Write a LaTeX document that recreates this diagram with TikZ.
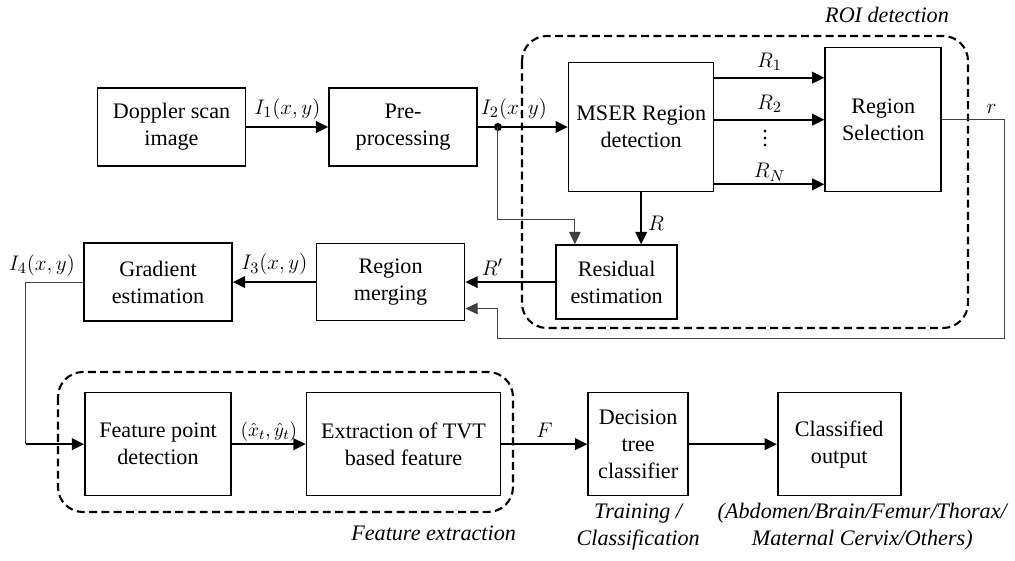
\documentclass[tikz,border=0pt]{standalone}
\usepackage{amsmath}
\usepackage{fontspec}
\setmainfont{Liberation Serif}
\usetikzlibrary{positioning,calc,arrows.meta}

\begin{document}
\begin{tikzpicture}[>={Triangle[length=7pt,width=6.5pt]},
  font=\rmfamily\fontsize{12.6}{15.4}\selectfont,
  block/.style={rectangle, draw=black, line width=0.9pt, minimum width=2.96cm, minimum height=1.56cm, align=center, inner sep=2pt},
  arrow/.style={->, line width=1.2pt},
  thinline/.style={draw=black!75, line width=0.6pt},
  group/.style={draw=black, line width=1.2pt, dash pattern=on 4.5pt off 2.5pt, rounded corners=0.5cm},
  note/.style={font=\rmfamily\fontsize{12.6}{15.4}\selectfont\itshape, align=center, inner sep=1pt}]

  \useasboundingbox (0,0) rectangle (20.3,-11.2);

  % top row
  \node [block] (doppler) at (3.43,-2.54) {Doppler scan\\image};
  \node [block, right=1.64cm of doppler] (pre) {Pre-\\processing};
  \node [block, minimum width=2.9cm, minimum height=2.58cm, right=1.8cm of pre] (mser) {MSER Region\\detection};
  \node [block, minimum width=2.32cm, minimum height=2.88cm, right=2.2cm of mser.south east, anchor=south west] (sel) {Region\\Selection};

  % middle row
  \node [block, minimum width=2.42cm, minimum height=1.48cm, below=1.04cm of mser, xshift=-0.49cm] (resid) {Residual\\estimation};
  \node [block, minimum height=1.54cm, left=1.8cm of resid] (merge) {Region\\merging};
  \node [block, left=1.66cm of merge] (grad) {Gradient\\estimation};

  % bottom row
  \node [block, minimum width=2.92cm, minimum height=2.06cm, below=1.4cm of grad] (fpd) {Feature point\\detection};
  \node [block, minimum width=3.88cm, minimum height=2.06cm, right=1.48cm of fpd] (tvt) {Extraction of TVT\\based feature};
  \node [block, minimum width=2.0cm, minimum height=2.06cm, right=1.72cm of tvt] (dtc) {Decision\\tree\\classifier};
  \node [block, minimum width=2.46cm, minimum height=2.06cm, right=1.76cm of dtc] (out) {Classified\\output};

  % dashed groups
  \draw [group] (10.44,-0.72) rectangle (19.36,-6.56);
  \node [note] (roilab) at (17.74,-0.3) {ROI detection};
  \draw [group] (1.16,-7.44) rectangle (10.26,-10.24);
  \node [note, anchor=east] (fexlab) at (10.36,-10.66) {Feature extraction};
  \node [note, below=0.1cm of dtc] (trainlab) {Training /\\Classification};
  \node [note, below=0.1cm of out, xshift=0.46cm] (classlab) {(Abdomen/Brain/Femur/Thorax/\\Maternal Cervix/Others)};

  % connectors
  \draw [arrow] (doppler) -- node[above]{$I_1(x,y)$} (pre);
  \coordinate (tap) at ($(pre.east)+(0.4,0)$);
  \draw [arrow] (pre) -- node[above, pos=0.4]{$I_2(x,y)$} (mser);
  \fill (tap) circle (2.3pt);
  \draw [thinline, ->] (tap) |- ($(resid.north west)+(0.39,0.5)$) -- ($(resid.north west)+(0.39,0)$);
  \draw [arrow] (mser) -- node[right, pos=0.6]{$R$} (mser.south |- resid.north);

  \coordinate (r1) at ($(mser.north east)+(0,-0.32)$);
  \coordinate (r2) at ($(mser.north east)+(0,-1.16)$);
  \coordinate (rn) at ($(mser.south east)+(0,0.16)$);
  \draw [arrow] (r1) -- node[above]{$R_1$} (sel.west |- r1);
  \draw [arrow] (r2) -- node[above]{$R_2$} (sel.west |- r2);
  \draw [arrow] (rn) -- node[above, inner sep=1pt]{$R_N$} (sel.west |- rn);
  \node [inner sep=0pt, anchor=base] (vdots) at ($(r2)!0.46!(sel.west |- r2)+(0,-0.54)$) {$\smash{\vdots}$};

  \draw [thinline, ->] (sel.east) -- ++(1.24,0) node[above, pos=0.8]{$r$}
    |- ($(tap |- merge.south)+(0,-0.34)$) |- ($(merge.east)+(0,-0.53)$);
  \draw [arrow] (resid) -- node[above, pos=0.7]{$R'$} (merge);
  \draw [arrow] (merge) -- node[above]{$I_3(x,y)$} (grad);

  \draw [thinline] (grad.west) -- ++(-1.15,0) coordinate (bend) node[above, pos=0.72]{$I_4(x,y)$} -- (bend |- fpd.west);
  \draw [arrow] (bend |- fpd.west) -- (fpd);
  \draw [arrow] (fpd) -- node[above, inner sep=1pt, inner xsep=0pt, font=\fontsize{11}{13}\selectfont]{$(\hat{x}_t,\hat{y}_t)$} (tvt);
  \draw [arrow] (tvt) -- node[above]{$F$} (dtc);
  \draw [arrow] (dtc) -- (out);
\end{tikzpicture}
\end{document}
